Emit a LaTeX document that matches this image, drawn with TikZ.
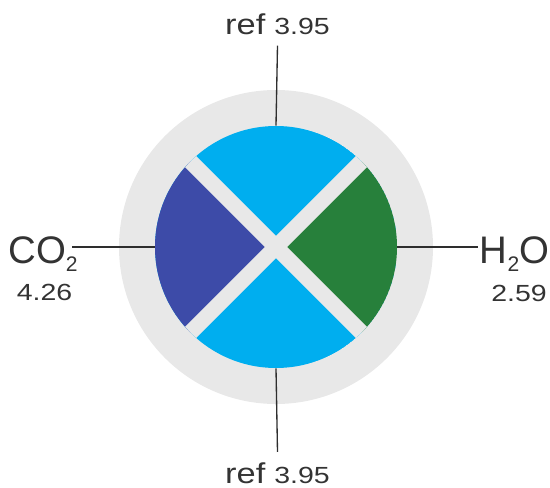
\documentclass[tikz,border=0pt]{standalone}
\usepackage{fontspec}
\usepackage{graphicx}
\setmainfont{Liberation Sans}
\definecolor{lblue}{HTML}{00AEEF}
\definecolor{dblue}{HTML}{3D4BA8}
\definecolor{dgreen}{HTML}{27803B}
\definecolor{bggray}{HTML}{E8E8E8}
\definecolor{txt}{HTML}{333333}
\newcommand\wordref{\scalebox{1.2}[1]{\fontsize{21.5pt}{24pt}\selectfont ref}}
\newcommand\numtxt[1]{\scalebox{1.22}[1]{\fontsize{17.5pt}{20pt}\selectfont #1}}
\newcommand\bigtxt[1]{{\fontsize{28.8pt}{32pt}\selectfont #1}}
\newcommand\subtxt[1]{\raisebox{-6pt}{\fontsize{15.8pt}{18pt}\selectfont #1}}
\begin{document}
\begin{tikzpicture}[x=0.75pt,y=-0.75pt,
  lab/.style={inner xsep=0pt, inner ysep=7.5pt, text=txt, anchor=base},
  conn/.style={draw=txt!90!black, line width=1pt},
  gapband/.style={draw=bggray, line width=11.7pt}]
\useasboundingbox (0,0) rectangle (550,488);
\node[circle, fill=bggray, minimum size=235.5pt, inner sep=0pt] (outer) at (276,247) {};
\node[circle, minimum size=181.5pt, inner sep=0pt] (inner) at (276,247) {};
\begin{scope}
  \clip (inner.center) circle[radius=121];
  \fill[lblue] (inner.center) circle[radius=121];
  \fill[dblue] (inner.center) -- ++(-200,-200) -- ++(0,400) -- cycle;
  \fill[dgreen] (inner.center) -- ++(200,-200) -- ++(0,400) -- cycle;
  \draw[gapband] (inner.center) ++(-200,-200) -- ++(400,400);
  \draw[gapband] (inner.center) ++(200,-200) -- ++(-400,400);
\end{scope}
\node[lab] (reftop) at (277.5,35) {\wordref\hspace{6.75pt}\numtxt{3.95}};
\node[lab] (refbot) at (277.5,483) {\wordref\hspace{6.75pt}\numtxt{3.95}};
\node[lab] (co2) at (43,264) {\bigtxt{CO}\subtxt{2}};
\node[lab] (v426) at (44.5,301) {\numtxt{4.26}};
\node[lab] (h2o) at (514.5,264) {\bigtxt{H}\subtxt{2}\bigtxt{O}};
\node[lab] (v259) at (519,302) {\numtxt{2.59}};
\coordinate (lstart) at (72,247);
\coordinate (rend) at (478,247);
\draw[conn] (reftop.south) -- (inner.north);
\draw[conn] (inner.south) -- (refbot.north);
\draw[conn] (lstart) -- (inner.west);
\draw[conn] (inner.east) -- (rend);
\end{tikzpicture}
\end{document}
